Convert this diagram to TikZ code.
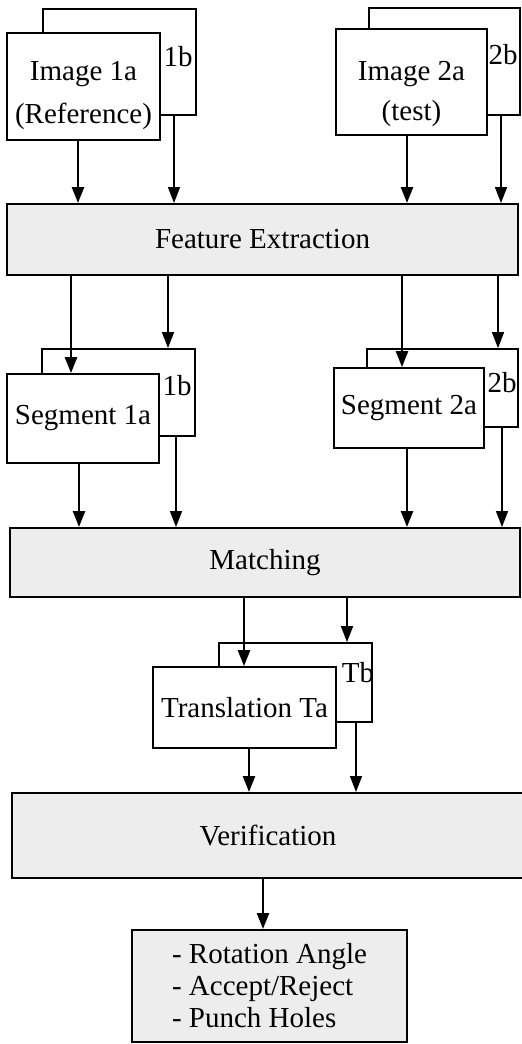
\documentclass[tikz,border=0pt]{standalone}
\usepackage{fontspec}
\setmainfont{Liberation Serif}
\usetikzlibrary{arrows.meta}

\tikzset{
  card/.style={draw, fill=white, line width=0.9pt, inner sep=0pt, align=center},
  stage/.style={draw, fill=black!7, line width=1pt, inner sep=0pt},
  tag/.style={inner sep=0pt},
  flow/.style={-{Triangle[length=8pt,width=6pt]}, line width=1.3pt},
  flowb/.style={-{Triangle[length=8pt,width=6pt]}, line width=0.8pt},
}

\begin{document}
\begin{tikzpicture}[x=0.5pt, y=-0.5pt, font=\fontsize{14.5}{21.5}\selectfont]
\useasboundingbox (0,0) rectangle (521,1044);

% input images (copy b sits behind copy a)
\node[card, minimum width=76.5pt, minimum height=53pt] (img1b) at (119.5,62) {};
\node[card, minimum width=76.5pt, minimum height=53.5pt, text height=40pt] (img1a) at (83.5,86.5) {Image 1a\\(Reference)};
\node[tag] (lab1b) at (178,57) {1b};
\node[card, minimum width=75.5pt, minimum height=53.5pt] (img2b) at (444.5,61.5) {};
\node[card, minimum width=75.5pt, minimum height=53pt, text height=42pt,
      font=\fontsize{14.5}{20}\selectfont] (img2a) at (411.5,82) {Image 2a\\(test)};
\node[tag] (lab2b) at (503,55) {2b};

\node[stage, minimum width=255.5pt, minimum height=35.5pt] (feat) at (262.5,239.5) {Feature Extraction};

% segments
\node[card, minimum width=76.5pt, minimum height=43.5pt] (seg1b) at (118.5,392.5) {};
\node[card, minimum width=76pt, minimum height=44.5pt] (seg1a) at (83,418.5) {Segment 1a};
\node[tag] (lab1bs) at (177,386) {1b};
\node[card, minimum width=75.5pt, minimum height=39pt] (seg2b) at (442.5,388) {};
\node[card, minimum width=75pt, minimum height=40pt] (seg2a) at (409,408) {Segment 2a};
\node[tag] (lab2bs) at (502,383) {2b};

\node[stage, minimum width=255pt, minimum height=34.5pt] (match) at (265,562.5) {Matching};

% translations
\node[card, minimum width=76.5pt, minimum height=39.5pt] (trb) at (295.5,682.5) {};
\node[card, minimum width=91.5pt, minimum height=40.5pt] (tra) at (244.5,707.5) {Translation Ta};
\node[tag] (labtb) at (358,673) {Tb};

\node[stage, minimum width=256pt, minimum height=42.5pt] (verif) at (268,835.5) {Verification};

\node[stage, minimum width=137.5pt, minimum height=56pt, align=left,
      font=\fontsize{14.5}{16}\selectfont] (result) at (269.5,986)
      {- Rotation Angle\\- Accept/Reject\\- Punch Holes};

% arrows
\draw[flow]  (img1a.south -| 78,0)  -- (feat.north -| 78,0);
\draw[flowb] (img1b.south -| 174,0) -- (feat.north -| 174,0);
\draw[flow]  (img2a.south -| 407,0) -- (feat.north -| 407,0);
\draw[flowb] (img2b.south -| 501,0) -- (feat.north -| 501,0);

\draw[flow]  (feat.south -| 71,0)  -- (seg1a.north -| 71,0);
\draw[flowb] (feat.south -| 168,0) -- (seg1b.north -| 168,0);
\draw[flow]  (feat.south -| 402,0) -- (seg2a.north -| 402,0);
\draw[flowb] (feat.south -| 498,0) -- (seg2b.north -| 498,0);

\draw[flow]  (seg1a.south -| 79,0)  -- (match.north -| 79,0);
\draw[flowb] (seg1b.south -| 176,0) -- (match.north -| 176,0);
\draw[flow]  (seg2a.south -| 407,0) -- (match.north -| 407,0);
\draw[flowb] (seg2b.south -| 502,0) -- (match.north -| 502,0);

\draw[flow]  (match.south -| 244,0) -- (tra.north -| 244,0);
\draw[flowb] (match.south -| 347,0) -- (trb.north -| 347,0);

\draw[flow]  (tra.south -| 249,0) -- (verif.north -| 249,0);
\draw[flowb] (trb.south -| 356,0) -- (verif.north -| 356,0);

\draw[flow]  (verif.south -| 263,0) -- (result.north -| 263,0);
\end{tikzpicture}
\end{document}
